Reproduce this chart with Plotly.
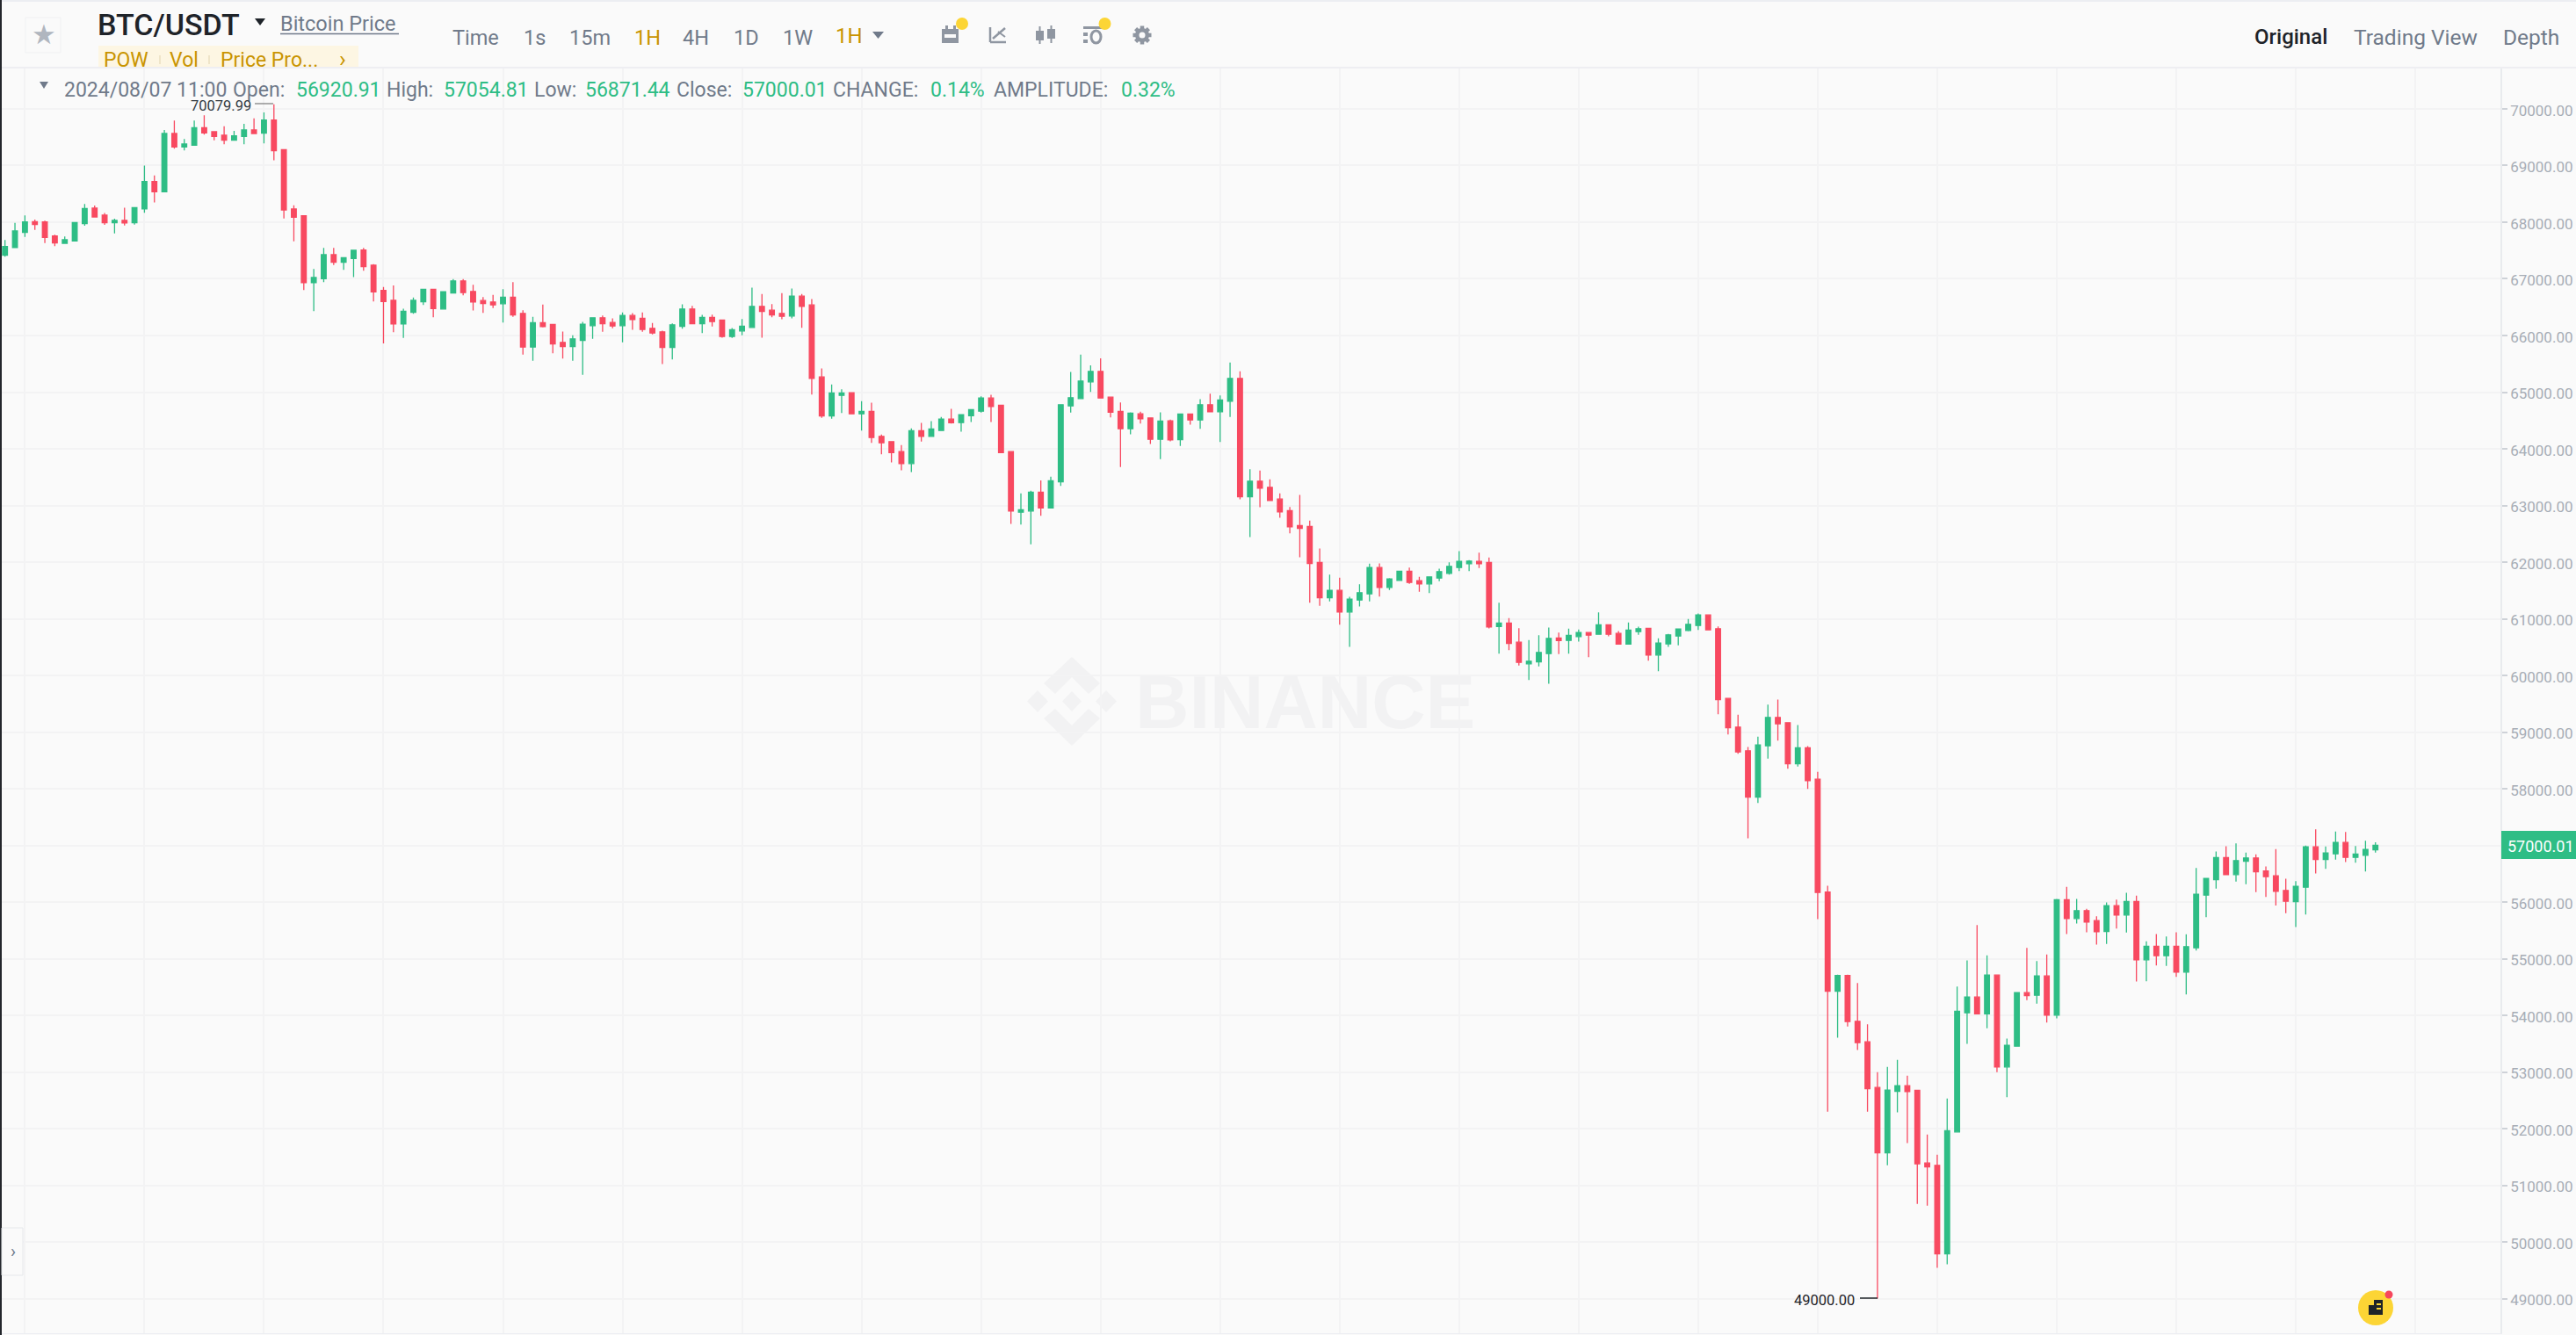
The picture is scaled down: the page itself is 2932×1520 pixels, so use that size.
import pandas as pd
import plotly.graph_objects as go

opens = [67416,67551,67819,68011,68005,67757,67628,67670,67974,68248,
68124,67990,68031,67990,68233,68719,68538,69566,69328,69359,
69670,69597,69535,69447,69515,69628,69571,69804,69282,68233,
68114,66931,67003,67427,67292,67359,67509,67241,66796,66620,
66202,66409,66595,66817,66468,66752,66964,66778,66618,66592,
66561,66675,66390,65796,66225,66194,65879,65806,65915,66173,
66313,66230,66173,66354,66302,66127,66065,65791,66163,66468,
66209,66318,66271,65982,66080,66142,66514,66447,66390,66344,
66695,66540,65269,64581,64943,64990,64618,64659,64220,64127,
63951,63739,64318,64220,64323,64525,64463,64582,64664,64897,
64768,63951,62881,62902,63233,62954,63419,64757,64887,65181,
65367,64912,64659,64354,64618,64545,64168,64494,64163,64613,
64509,64778,64654,64840,65243,63155,63429,63321,63114,62907,
62644,62628,61992,61372,61501,61119,61331,61439,61905,61553,
61677,61837,61672,61615,61718,61801,61905,61972,62013,61992,
60861,60923,60587,60204,60240,60385,60659,60618,60685,60757,
60726,60892,60742,60551,60773,60830,60359,60556,60695,60793,
60881,61067,60824,59594,59088,58669,57853,58757,59258,59165,
58442,58721,58168,56178,54426,54705,53894,53533,52726,51574,
52659,52757,52675,51393,51352,49791,51941,54044,54323,54024,
54711,53088,53455,54401,54354,54695,54003,56039,55708,55848,
55672,55480,55935,55770,56008,54979,55217,55052,55217,54762,
55191,56121,56395,56783,56483,56721,56778,56550,56462,56204,
56008,56261,56974,56752,56850,57052,56788,56824,56920.91]

closes = [67571,67845,68005,67959,67732,67633,67690,67995,68243,68093,
67990,68031,67985,68259,68719,68538,69566,69328,69380,69670,
69577,69515,69447,69525,69628,69566,69804,69261,68217,68088,
66931,67024,67427,67292,67375,67504,67215,66770,66600,66202,
66429,66620,66817,66476,66773,66964,66757,66592,66566,66540,
66675,66364,65796,66225,66158,65853,65806,65941,66199,66313,
66209,66168,66354,66282,66106,66044,65791,66189,66468,66209,
66318,66246,65982,66101,66163,66514,66426,66364,66339,66695,
66514,65243,64581,64985,64985,64618,64659,64199,64106,63931,
63739,64318,64220,64349,64525,64458,64602,64690,64897,64747,
63931,62902,62923,63233,62954,63434,64778,64902,65197,65367,
64897,64644,64354,64628,64530,64168,64489,64158,64613,64509,
64778,64654,64861,65243,63155,63429,63305,63088,62886,62623,
62597,61977,61372,61501,61119,61346,61460,61905,61553,61703,
61837,61641,61615,61739,61832,61925,62013,62018,61972,60855,
60923,60566,60230,60251,60406,60654,60613,60706,60757,60711,
60892,60726,60551,60799,60824,60359,60571,60716,60819,60902,
61067,60804,59574,59077,58649,57853,58773,59258,59145,58442,
58721,58142,56168,54426,54705,53889,53517,52706,51574,52680,
52757,52654,51377,51326,49791,51962,54070,54323,54024,54711,
53088,53471,54401,54349,54695,54003,56039,55708,55848,55646,
55476,55935,55770,56008,54979,55217,55052,55217,54762,55212,
56137,56416,56783,56483,56731,56778,56535,56447,56189,56013,
56276,56974,56752,56866,57052,56788,56845,56928,57000.01]

highs = [67685,67990,68119,68047,68026,67778,67747,67995,68321,68295,
68161,68062,68254,68269,68998,68827,69628,69794,69468,69794,
69887,69608,69695,69613,69737,69835,69938,70079.99,69287,68300,
68114,67173,67545,67545,67385,67509,67545,67261,66858,66884,
66471,66672,66819,66822,66773,66995,66995,66897,66680,66716,
66819,66943,66447,66328,66545,66204,66070,66003,66240,66318,
66354,66302,66406,66395,66406,66220,66085,66215,66550,66525,
66364,66370,66271,66132,66292,66845,66731,66556,66747,66830,
66731,66644,65419,65134,65052,64995,64840,64814,64251,64137,
64065,64359,64458,64489,64561,64706,64613,64695,64928,64954,
64778,63962,63212,63259,63440,63507,64778,65357,65662,65471,
65595,64912,64819,64644,64654,64545,64644,64514,64613,64623,
64876,64974,64943,65522,65367,63641,63615,63460,63212,62974,
63186,62731,62240,61781,61724,61388,61610,61972,61977,61718,
61843,61905,61739,61750,61884,61998,62194,62034,62168,62080,
61284,61010,60835,60623,60711,60845,60757,60824,60809,60768,
61114,60897,60783,60933,60861,60830,60654,60731,60824,60995,
61093,61077,60866,59594,59305,58736,58917,59486,59574,59165,
59124,58752,58297,56287,54716,54716,54571,53843,52995,53088,
53212,52933,52675,51894,51538,52530,54509,54969,55595,55057,
54711,53589,54401,55192,54959,55073,56055,56266,56055,55879,
55750,55992,56044,56163,56111,55305,55434,55393,55465,55429,
56602,56421,56891,56984,57036,56871,56840,56628,56933,56411,
56369,56995,57284,56979,57243,57238,56990,57083,57054.81]

lows = [67390,67551,67742,67866,67633,67577,67623,67670,67938,68088,
67954,67804,67943,67959,68166,68347,68538,69297,69266,69354,
69546,69447,69375,69447,69375,69561,69390,69091,68067,67664,
66801,66429,66941,67246,67158,67029,67142,66600,65861,66057,
65959,66383,66538,66321,66468,66752,66711,66442,66401,66483,
66230,66328,65662,65553,66142,65687,65594,65553,65305,65941,
66065,66127,65879,66101,66065,66018,65496,65579,66122,66209,
66044,66158,65961,65956,66003,66137,65961,66323,66287,66302,
66137,64959,64545,64530,64633,64613,64323,64106,63905,63760,
63620,63589,64127,64220,64318,64447,64303,64473,64639,64473,
63925,62675,62664,62313,62819,62954,63346,64639,64881,65005,
64897,64556,63677,64256,64447,64086,63817,64132,64049,64427,
64354,64654,64122,64561,63109,62442,62969,63078,62783,62509,
62085,61284,61228,61305,60897,60504,61217,61305,61393,61507,
61677,61615,61476,61455,61662,61781,61843,61843,61894,60830,
60385,60447,60173,59920,60158,59853,60375,60385,60597,60323,
60716,60690,60551,60545,60716,60261,60075,60504,60530,60778,
60804,60804,59315,58959,58617,57124,57749,58530,58850,58354,
58390,57997,55698,52300,53605,53801,53388,52297,49000,51352,
52287,51744,50670,50639,49543,49605,51941,53496,54024,53770,
52995,52556,53455,54266,54204,53874,53946,55434,55620,55465,
55248,55258,55532,55460,54597,54602,54881,54871,54679,54369,
55145,55734,56235,56483,56359,56313,56173,56090,55940,55801,
55558,55780,56504,56586,56747,56705,56695,56540,56871.44]

assert len(opens) == len(closes) == len(highs) == len(lows) == 239
times = pd.date_range(end="2024-08-07 11:00", periods=239, freq="h")
price_ticks = list(range(49000, 70001, 1000))
last_close = closes[-1]

W, H = 2932, 1520
GREEN, RED = "#2ebd85", "#f84960"
GREY, DARK, GOLD = "#707a8a", "#1e2329", "#c99400"
ICON = "#8f96a1"
FONT = "Roboto"
px = lambda v: v / W
py = lambda v: 1 - v / H

fig = go.Figure(go.Candlestick(
    x=times, open=opens, high=highs, low=lows, close=closes,
    increasing=dict(line=dict(color=GREEN, width=1.3), fillcolor=GREEN),
    decreasing=dict(line=dict(color=RED, width=1.3), fillcolor=RED),
    showlegend=False, whiskerwidth=0,
))

shapes, notes = [], []


def text(x, y, s, size=23, color=GREY, anchor="left", weight=400, family=FONT):
    notes.append(dict(x=px(x), y=py(y), xref="paper", yref="paper", text=s, showarrow=False,
                      xanchor=anchor, yanchor="middle", borderpad=0, borderwidth=0,
                      font=dict(size=size, color=color, family=family, weight=weight)))


def rect(x0, y0, x1, y1, fill, line=None, layer="above"):
    shapes.append(dict(type="rect", xref="paper", yref="paper", x0=px(x0), x1=px(x1), y0=py(y0), y1=py(y1),
                       fillcolor=fill, layer=layer, line=dict(width=1 if line else 0, color=line or fill)))


def circle(cx, cy, rx, ry, fill):
    shapes.append(dict(type="circle", xref="paper", yref="paper", x0=px(cx - rx), x1=px(cx + rx),
                       y0=py(cy - ry), y1=py(cy + ry), fillcolor=fill, line=dict(width=0)))


def line(x0, y0, x1, y1, color, width=1.5):
    shapes.append(dict(type="line", xref="paper", yref="paper", x0=px(x0), x1=px(x1), y0=py(y0), y1=py(y1),
                       line=dict(color=color, width=width)))


def poly(points, fill, layer="above"):
    d = "M" + " L".join(f"{px(a):.6f},{py(b):.6f}" for a, b in points) + " Z"
    shapes.append(dict(type="path", xref="paper", yref="paper", path=d, fillcolor=fill, layer=layer,
                       line=dict(width=0)))


# frame
rect(0, 0, 2, H, "#23262b")
rect(2, 0, W, 2, "#eceef2")
rect(2, 76, W, 78, "#eeeef2")

# star button
rect(29, 20, 69, 60, "#fafafa", "#f0f1f3")
text(49.5, 39, "★", 31, "#b0b6bf", "center", family="DejaVu Sans")

# symbol header
text(111, 28, "BTC/USDT", 34, DARK, weight=500)
poly([(290, 21), (302, 21), (296, 29)], DARK)
text(319, 27, "Bitcoin Price", 23.5, GREY)
line(319, 38.5, 454, 38.5, GREY, 1.5)

# tag strip
shapes.append(dict(type="rect", xref="paper", yref="paper", x0=px(112), x1=px(408), y0=py(52), y1=py(76),
                   fillcolor="#fdf6e3", line=dict(width=0)))
text(118, 68, "POW", 23, GOLD)
text(193, 68, "Vol", 23, GOLD)
text(251, 68, "Price Pro...", 23, GOLD)
text(390, 67, "›", 26, GOLD, "center")
line(182, 63, 182, 73, "#eadfc0", 1.5)
line(238, 63, 238, 73, "#eadfc0", 1.5)

# interval tabs
for x, s, c in [(515, "Time", GREY), (596, "1s", GREY), (648, "15m", GREY), (722, "1H", GOLD),
                (777, "4H", GREY), (835, "1D", GREY), (891, "1W", GREY)]:
    text(x, 43, s, 23.5, c)
text(951, 41, "1H", 24, GOLD)
poly([(993, 36), (1006, 36), (999.5, 44)], GREY)

# toolbar icons
rect(1072, 33, 1091, 49, ICON)
rect(1076, 29, 1079, 34, ICON)
rect(1085, 29, 1088, 34, ICON)
rect(1075, 39, 1088, 43, "#fafafa")
circle(1095, 27, 7, 7, "#fcd535")
line(1127, 31, 1127, 48, ICON, 2.5)
line(1127, 48, 1145, 48, ICON, 2.5)
line(1130, 44, 1144, 32, ICON, 2.5)
line(1136, 36, 1144, 42, ICON, 2)
for x0, y0, y1 in [(1179, 35, 46), (1192, 33, 44)]:
    rect(x0, y0, x0 + 9, y1, ICON)
line(1183.5, 30, 1183.5, 50, ICON, 2)
line(1196.5, 29, 1196.5, 49, ICON, 2)
rect(1233, 30, 1254, 33, ICON)
rect(1233, 37, 1238, 41, ICON)
rect(1233, 45, 1238, 49, ICON)
shapes.append(dict(type="circle", xref="paper", yref="paper", x0=px(1242), x1=px(1253), y0=py(35), y1=py(49),
                   fillcolor="#fafafa", line=dict(color=ICON, width=3)))
circle(1257.5, 27, 7, 7, "#fcd535")
# gear
line(1300, 29.5, 1300, 50.5, ICON, 4.5)
line(1289.5, 40, 1310.5, 40, ICON, 4.5)
line(1292.6, 32.6, 1307.4, 47.4, ICON, 4.5)
line(1292.6, 47.4, 1307.4, 32.6, ICON, 4.5)
circle(1300, 40, 8, 8, ICON)
circle(1300, 40, 3.5, 3.5, "#fafafa")

# right view switch
text(2566, 42, "Original", 24, DARK, weight=500)
text(2679, 42, "Trading View", 24.5, GREY)
text(2849, 42, "Depth", 24.5, GREY)

# OHLC info line
poly([(45, 93), (55, 93), (50, 101)], GREY)
for x, s, c in [(73, "2024/08/07 11:00", GREY), (265, "Open:", GREY), (337, "56920.91", GREEN),
                (440, "High:", GREY), (505, "57054.81", GREEN), (608, "Low:", GREY),
                (666, "56871.44", GREEN), (770, "Close:", GREY), (845, "57000.01", GREEN),
                (948, "CHANGE:", GREY), (1059, "0.14%", GREEN), (1131, "AMPLITUDE:", GREY),
                (1276, "0.32%", GREEN)]:
    text(x, 102, s, 23, c)

# max / min markers
text(286, 120, "70079.99", 16.5, "#333a42", "right")
line(290, 118, 311, 118, "#777", 1.2)
text(2111, 1480, "49000.00", 16.5, DARK, "right")
line(2117, 1478, 2137, 1478, DARK, 1.5)

# last price tag
rect(2847, 946, W, 978, GREEN)
text(2930, 963, f"{last_close:.2f}", 18, "#ffffff", "right")

# watermark
WM = "#f2f2f3"
text(1292, 799, "BINANCE", 85, WM, weight=700, family="Liberation Sans")
poly([(1220, 787), (1231, 798.5), (1220, 810), (1209, 798.5)], WM, "below")
poly([(1169, 798.5), (1181, 786), (1193, 798.5), (1181, 811)], WM, "below")
poly([(1271, 798.5), (1259, 786), (1247, 798.5), (1259, 811)], WM, "below")
poly([(1220, 748), (1252, 778), (1239, 790), (1220, 771), (1201, 790), (1188, 778)], WM, "below")
poly([(1220, 849), (1252, 818), (1239, 807), (1220, 826), (1201, 807), (1188, 818)], WM, "below")

# help bubble
circle(2704, 1489, 20, 20, "#fcd535")
rect(2696, 1486, 2704, 1497, DARK)
rect(2702, 1480, 2712, 1497, DARK)
rect(2705, 1484, 2710, 1486, "#fcd535")
rect(2705, 1489, 2710, 1491, "#fcd535")
circle(2719, 1474, 4.5, 4.5, "#f6465d")

# side handle
rect(2, 1398, 26, 1452, "#fafafa", "#e6e8eb")
text(15, 1425, "›", 20, GREY, "center")

fig.update_layout(
    width=W, height=H, autosize=False,
    margin=dict(l=0, r=0, t=0, b=0, pad=0),
    paper_bgcolor="#fafafa", plot_bgcolor="#fafafa",
    showlegend=False, shapes=shapes, annotations=notes, boxgap=0.3,
    xaxis=dict(
        domain=[px(2), px(2846)], rangeslider=dict(visible=False), type="date",
        range=[times[0] - pd.Timedelta(minutes=19.6), times[0] + pd.Timedelta(hours=250.55)],
        tick0=times[2], dtick=43200000, showticklabels=False, ticks="",
        showgrid=True, gridcolor="#f3f3f4", gridwidth=1.5, zeroline=False,
        showline=True, linecolor="#eceef2", linewidth=1,
    ),
    yaxis=dict(
        domain=[1 - 1518 / H, 1 - 78 / H], side="right", range=[48388, 70713],
        tickvals=price_ticks, tickformat=".2f",
        tickfont=dict(family=FONT, size=17, color="#a7adb6"),
        ticks="outside", ticklen=6, tickwidth=1.5, tickcolor="#ced2d8", ticklabelshift=2,
        showgrid=True, gridcolor="#f3f3f4", gridwidth=1.5, zeroline=False,
        showline=True, linecolor="#e9ebee", linewidth=1.5,
    ),
)
fig.write_html("out.html", config=dict(displayModeBar=False),
               post_script="document.body.style.margin='0';")
